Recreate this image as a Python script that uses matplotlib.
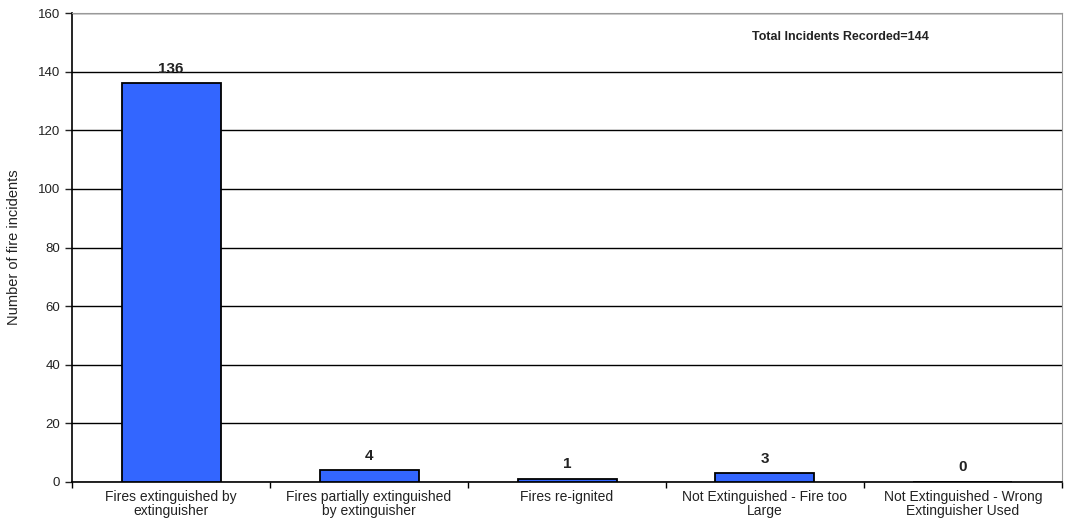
import matplotlib.pyplot as plt
import numpy as np

plt.rcParams['font.family'] = ['Liberation Sans', 'DejaVu Sans']

categories = [
    'Fires extinguished by\nextinguisher',
    'Fires partially extinguished\nby extinguisher',
    'Fires re-ignited',
    'Not Extinguished - Fire too\nLarge',
    'Not Extinguished - Wrong\nExtinguisher Used',
]
incidents = [136, 4, 1, 3, 0]
y_ticks = [0, 20, 40, 60, 80, 100, 120, 140, 160]
total_text = 'Total Incidents Recorded=144'

fig = plt.figure(figsize=(10.67, 5.26), dpi=100)
ax = fig.add_axes([0.0675, 0.0837, 0.9278, 0.8913])

x = np.arange(len(categories))
ax.bar(x, incidents, width=0.5, color='#3366FF', edgecolor='black', linewidth=1.3, zorder=3)

# value labels above each bar
for xi, v in zip(x, incidents):
    ax.annotate(str(v), (xi, v), xytext=(0, 10.5), textcoords='offset points',
                ha='center', va='center', fontsize=11, fontweight='bold', color='#222222')

ax.set_xlim(-0.5, len(categories) - 0.5)
ax.set_ylim(0, 160)
ax.set_yticks(y_ticks)
ax.yaxis.grid(True, color='black', linewidth=1.0, zorder=0)
ax.tick_params(axis='y', labelsize=9.5, length=5, width=1, direction='out', colors='#222222')

ax.set_xticks(x)
ax.set_xticklabels(categories, fontsize=10, linespacing=0.95, color='#222222')
ax.tick_params(axis='x', which='major', length=0, pad=6)
ax.set_xticks(np.arange(len(categories) + 1) - 0.5, minor=True)
ax.tick_params(axis='x', which='minor', length=4, width=1, direction='out')

ax.set_ylabel('Number of fire incidents', fontsize=10.5, labelpad=12, color='#222222')

for side in ['top', 'right']:
    ax.spines[side].set_color('#999999')
for side in ['left', 'bottom']:
    ax.spines[side].set_color('black')
    ax.spines[side].set_linewidth(1.2)

ax.text(0.776, 0.949, total_text, transform=ax.transAxes, ha='center', va='center',
        fontsize=9, fontweight='bold', color='#222222')

fig.savefig('out.png', dpi=100)
